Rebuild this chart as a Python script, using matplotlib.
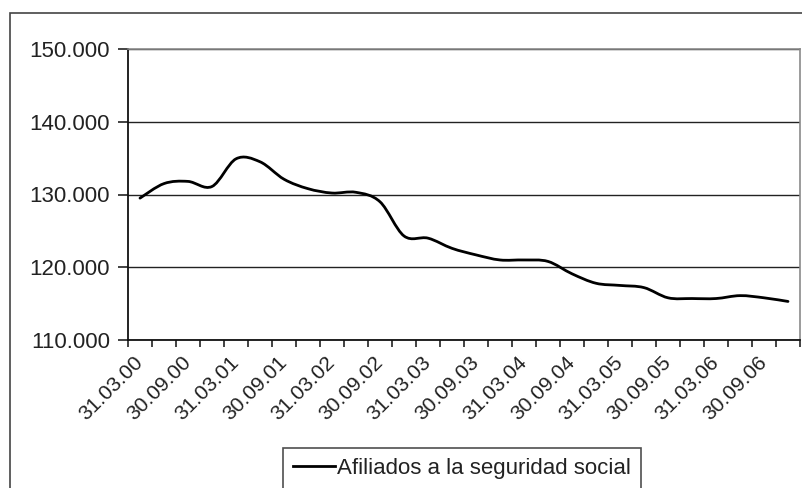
import numpy as np
import matplotlib
matplotlib.use("Agg")
import matplotlib.pyplot as plt
from matplotlib.patches import Rectangle, PathPatch
from matplotlib.path import Path
from matplotlib.lines import Line2D
from matplotlib.transforms import ScaledTranslation

plt.rcParams['font.family'] = ['Liberation Sans', 'DejaVu Sans']

# Trimestres (31.03.00 ... 31.12.06)
trimestres = ["31.03.00", "30.06.00", "30.09.00", "31.12.00",
              "31.03.01", "30.06.01", "30.09.01", "31.12.01",
              "31.03.02", "30.06.02", "30.09.02", "31.12.02",
              "31.03.03", "30.06.03", "30.09.03", "31.12.03",
              "31.03.04", "30.06.04", "30.09.04", "31.12.04",
              "31.03.05", "30.06.05", "30.09.05", "31.12.05",
              "31.03.06", "30.06.06", "30.09.06", "31.12.06"]

# Afiliados a la seguridad social (miles)
afiliados = [129.5, 131.5, 131.8, 131.1, 134.9, 134.5, 132.1, 130.8,
             130.2, 130.3, 129.0, 124.3, 124.0, 122.6, 121.7, 121.0,
             121.0, 120.8, 119.1, 117.8, 117.5, 117.2, 115.8, 115.7,
             115.7, 116.1, 115.8, 115.3]

y_ticks = [110, 120, 130, 140, 150]
y_labels = ["110.000", "120.000", "130.000", "140.000", "150.000"]


def linea_suavizada(xs, ys):
    # curva Bezier que pasa por cada punto (como la línea suavizada de Excel)
    p = np.column_stack([xs, ys]).astype(float)
    n = len(p)
    verts = [p[0]]
    codes = [Path.MOVETO]
    for i in range(n - 1):
        p0 = p[i - 1] if i > 0 else p[i]
        p3 = p[i + 2] if i + 2 < n else p[i + 1]
        c1 = p[i] + (p[i + 1] - p0) / 6
        c2 = p[i + 1] - (p3 - p[i]) / 6
        verts += [c1, c2, p[i + 1]]
        codes += [Path.CURVE4] * 3
    return Path(verts, codes)


W, H = 803, 488
fig = plt.figure(figsize=(W / 100, H / 100), dpi=100)

# marco del gráfico
fig.patches.append(Rectangle((10 / W, -0.1), 1.2, 1 - 13 / H + 0.1,
                             transform=fig.transFigure, fill=False,
                             edgecolor="#444444", linewidth=1.2))

ax = fig.add_axes([128 / W, 1 - 340 / H, 672 / W, 291 / H])

x = np.arange(len(afiliados))
ax.add_patch(PathPatch(linea_suavizada(x, afiliados), fill=False,
                       edgecolor="black", linewidth=2.0, capstyle="round",
                       joinstyle="round", zorder=3))

ax.set_xlim(-0.5, len(afiliados) - 0.5)
ax.set_ylim(110, 150)

ax.set_yticks(y_ticks)
ax.set_yticklabels(y_labels)
ax.yaxis.grid(True, color="#222222", linewidth=1.0)

ax.set_xticks(x[::2])
ax.set_xticklabels(trimestres[::2], rotation=45, ha="right", va="center",
                   rotation_mode="anchor")
ax.set_xticks(np.arange(-0.5, len(afiliados), 1), minor=True)
desplaza = ScaledTranslation(-4 / 100, 0, fig.dpi_scale_trans)
for lab in ax.get_xticklabels():
    lab.set_transform(lab.get_transform() + desplaza)

ax.tick_params(axis="y", direction="out", length=7, width=1.2, pad=6,
               labelsize=16, colors="#222222")
ax.tick_params(axis="x", which="major", length=0, pad=14,
               labelsize=15, colors="#222222")
ax.tick_params(axis="x", which="minor", direction="out", length=5,
               width=1.2, color="#222222")

for s in ["left", "bottom"]:
    ax.spines[s].set_color("#111111")
    ax.spines[s].set_linewidth(1.3)
for s in ["top", "right"]:
    ax.spines[s].set_color("#8a8a8a")
    ax.spines[s].set_linewidth(1.2)

handle = Line2D([], [], color="black", linewidth=2.0)
leg = fig.legend([handle], ["Afiliados a la seguridad social"],
                 loc="upper left", bbox_to_anchor=(283 / W, 1 - 448 / H),
                 fontsize=16, frameon=True, fancybox=False, borderpad=0.45,
                 handlelength=1.9, handletextpad=0.08, borderaxespad=0)
leg.get_frame().set_edgecolor("#222222")
leg.get_frame().set_linewidth(1.2)
for t in leg.get_texts():
    t.set_color("#222222")

fig.savefig("out.png", dpi=100)
